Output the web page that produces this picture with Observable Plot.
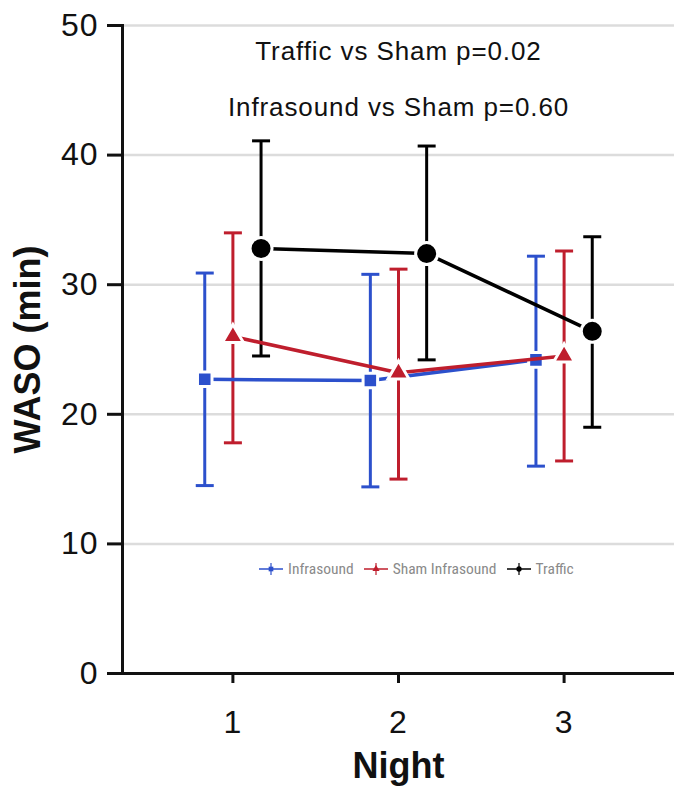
<!DOCTYPE html>
<html>
<head>
<meta charset="utf-8">
<script src="https://cdn.jsdelivr.net/npm/d3@7"></script>
<script src="https://cdn.jsdelivr.net/npm/@observablehq/plot@0.6"></script>
<style>
  html, body { margin: 0; padding: 0; background: #fff; }
  #wrap { position: relative; width: 674px; height: 787px; font-family: "Liberation Sans", Arimo, Helvetica, Arial, sans-serif; }
  g[aria-label="y-axis label"] text, g[aria-label="x-axis label"] text { font-weight: bold; font-size: 36px; }
  g[aria-label="text"] text { letter-spacing: 0.9px; }
  g[aria-label="y-axis tick label"] text, g[aria-label="x-axis tick label"] text { letter-spacing: 1px; }
  #legend { position: absolute; left: 258px; top: 560px; display: flex; align-items: center; gap: 9px;
    font-family: "Liberation Sans Narrow", "Arial Narrow", "Roboto Condensed", "Liberation Sans", sans-serif;
    font-stretch: condensed; font-size: 15.5px; color: #8a8a8a; }
  #legend .item { display: flex; align-items: center; gap: 4px; }
</style>
</head>
<body>
<div id="wrap"></div>
<script>
const nights = [1, 2, 3];
const seriesNames = ["Infrasound", "Sham Infrasound", "Traffic"];
const seriesColors = ["#2c50cc", "#bf1e2d", "#000000"];
const seriesSymbols = ["square", "triangle", "circle"];
const seriesOffsets = [-0.17, 0, 0.17];

const infrasoundMean = [22.7, 22.6, 24.2];
const infrasoundHigh = [30.9, 30.8, 32.2];
const infrasoundLow  = [14.5, 14.4, 16.0];

const shamMean = [26.0, 23.2, 24.5];
const shamHigh = [34.0, 31.2, 32.6];
const shamLow  = [17.8, 15.0, 16.4];

const trafficMean = [32.8, 32.4, 26.4];
const trafficHigh = [41.1, 40.7, 33.7];
const trafficLow  = [24.5, 24.2, 19.0];

const yTicks = [0, 10, 20, 30, 40, 50];
const annotations = ["Traffic vs Sham p=0.02", "Infrasound vs Sham p=0.60"];

const means = [infrasoundMean, shamMean, trafficMean];
const highs = [infrasoundHigh, shamHigh, trafficHigh];
const lows = [infrasoundLow, shamLow, trafficLow];

const data = [];
seriesNames.forEach((s, i) => {
  nights.forEach((n, j) => {
    data.push({series: s, idx: i, night: n, x: n + seriesOffsets[i], mean: means[i][j], hi: highs[i][j], lo: lows[i][j]});
  });
});

const cap = {
  draw(context, size) {
    const w = Math.sqrt(size / Math.PI);
    context.moveTo(-w, 0);
    context.lineTo(w, 0);
  }
};

const font = '"Liberation Sans", Arimo, Helvetica, Arial, sans-serif';
const marks = [
  Plot.gridY(yTicks, {stroke: "#dcdcdc", strokeOpacity: 1, strokeWidth: 2.5}),
  Plot.axisY(yTicks, {tickSize: 15, tickPadding: 9, fontSize: 32, strokeWidth: 3,
    label: "WASO (min)", labelAnchor: "center", labelArrow: "none", labelOffset: 108}),
  Plot.axisX(nights, {tickSize: 10, tickPadding: 27, fontSize: 32, strokeWidth: 3, tickFormat: "d",
    label: "Night", labelAnchor: "center", labelArrow: "none", labelOffset: 104}),
  Plot.frame({anchor: "left", strokeWidth: 3}),
  Plot.ruleY([0], {strokeWidth: 3}),
  Plot.text([annotations[0]], {frameAnchor: "top", text: d => d, dy: 16, fontSize: 26, fill: "#111"}),
  Plot.text([annotations[1]], {frameAnchor: "top", text: d => d, dy: 72, fontSize: 26, fill: "#111"})
];
seriesNames.forEach((s, i) => {
  const d = data.filter(e => e.idx === i);
  marks.push(Plot.ruleX(d, {x: "x", y1: "lo", y2: "hi", stroke: seriesColors[i], strokeWidth: 3}));
  marks.push(Plot.dot(d, {x: "x", y: "hi", symbol: cap, r: 9, stroke: seriesColors[i], strokeWidth: 3, fill: "none"}));
  marks.push(Plot.dot(d, {x: "x", y: "lo", symbol: cap, r: 9, stroke: seriesColors[i], strokeWidth: 3, fill: "none"}));
});
seriesNames.forEach((s, i) => {
  const d = data.filter(e => e.idx === i);
  marks.push(Plot.line(d, {x: "x", y: "mean", stroke: seriesColors[i], strokeWidth: 3.5}));
  const r = seriesSymbols[i] === "circle" ? 11 : seriesSymbols[i] === "square" ? 8.2 : 7.8;
  marks.push(Plot.dot(d, {x: "x", y: "mean", symbol: seriesSymbols[i], r, fill: seriesColors[i], stroke: "white", strokeWidth: 3}));
});

const chart = Plot.plot({
  width: 674, height: 787,
  marginLeft: 122, marginRight: 0, marginTop: 25, marginBottom: 114,
  style: {fontFamily: font, color: "#111", background: "white"},
  x: {domain: [1/3, 11/3]},
  y: {domain: [0, 50]},
  marks
});
const wrap = document.getElementById("wrap");
wrap.appendChild(chart);

// legend
const legend = d3.select(wrap).append("div").attr("id", "legend");
seriesNames.forEach((s, i) => {
  const item = legend.append("div").attr("class", "item");
  const svg = item.append("svg").attr("width", 26).attr("height", 16);
  svg.append("line").attr("x1", 1).attr("x2", 25).attr("y1", 8).attr("y2", 8).attr("stroke", seriesColors[i]).attr("stroke-width", 1.5);
  svg.append("line").attr("x1", 13).attr("x2", 13).attr("y1", 2).attr("y2", 14).attr("stroke", seriesColors[i]).attr("stroke-width", 1.2);
  const sym = {square: d3.symbolSquare, triangle: d3.symbolTriangle, circle: d3.symbolCircle}[seriesSymbols[i]];
  svg.append("path").attr("d", d3.symbol(sym, 22)()).attr("transform", "translate(13,8)").attr("fill", seriesColors[i]);
  item.append("span").text(s);
});
</script>
</body>
</html>
